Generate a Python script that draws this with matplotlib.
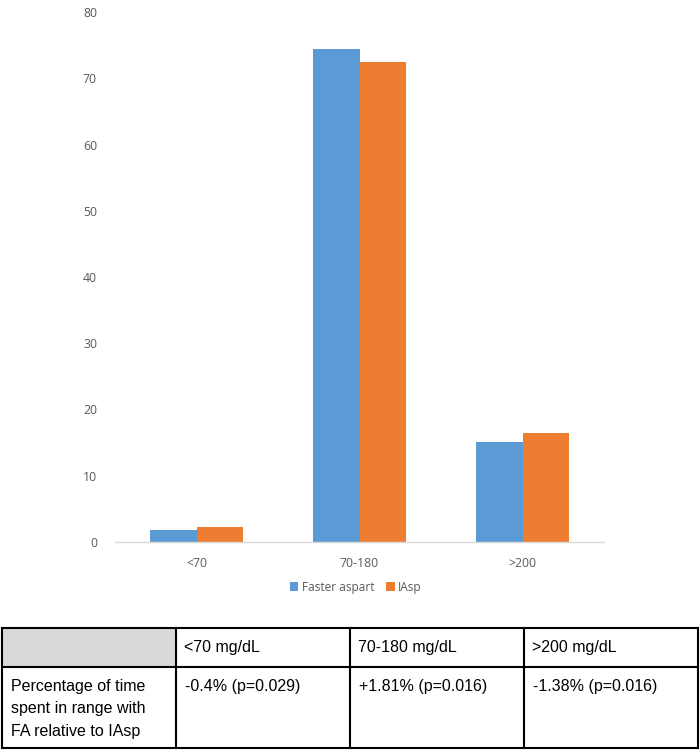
import matplotlib
matplotlib.use("Agg")
import matplotlib.pyplot as plt
from matplotlib.patches import Rectangle
import numpy as np

categories = ["<70", "70-180", ">200"]
faster_aspart = [1.8, 74.4, 15.1]
iasp = [2.2, 72.5, 16.4]
yticks = [0, 10, 20, 30, 40, 50, 60, 70, 80]
series_names = ["Faster aspart", "IAsp"]

table_header = ["", "<70 mg/dL", "70-180 mg/dL", ">200 mg/dL"]
table_row = ["Percentage of time\nspent in range with\nFA relative to IAsp",
             "-0.4% (p=0.029)", "+1.81% (p=0.016)", "-1.38% (p=0.016)"]

W, H = 700, 755
fig = plt.figure(figsize=(W / 100, H / 100), dpi=100)

def fx(px):
    return px / W

def fy(py):
    return 1 - py / H

chart_font = "Open Sans"
gray = "#595959"
blue = "#5B9BD5"
orange = "#ED7D31"

ax = fig.add_axes([fx(115), fy(542), fx(604) - fx(115), fy(12) - fy(542)])
x = np.arange(len(categories))
w = 0.285
ax.bar(x - w / 2, faster_aspart, w, color=blue, label=series_names[0])
ax.bar(x + w / 2, iasp, w, color=orange, label=series_names[1])
ax.set_xlim(-0.5, 2.5)
ax.set_ylim(0, 80)
ax.set_yticks(yticks)
ax.set_yticklabels([str(v) for v in yticks], fontfamily=chart_font, fontsize=8.8, color=gray)
ax.set_xticks(x)
ax.set_xticklabels(categories, fontfamily=chart_font, fontsize=8.8, color=gray)
ax.tick_params(axis="both", length=0)
ax.tick_params(axis="y", pad=13)
ax.tick_params(axis="x", pad=11)
for s in ["top", "right", "left"]:
    ax.spines[s].set_visible(False)
ax.spines["bottom"].set_color("#D9D9D9")
ax.spines["bottom"].set_linewidth(1.0)

leg = fig.legend(loc="center", bbox_to_anchor=(fx(356), fy(587)), ncol=2, frameon=False,
                 prop={"family": chart_font, "size": 8.6}, handlelength=0.7, handleheight=0.7,
                 handletextpad=0.3, columnspacing=1.0)
for t in leg.get_texts():
    t.set_color(gray)

# Table
tx0, tx1, ty0, ty1 = 2, 698, 628, 748
tax = fig.add_axes([fx(tx0), fy(ty1), fx(tx1) - fx(tx0), fy(ty0) - fy(ty1)])
tax.set_xlim(tx0, tx1)
tax.set_ylim(ty1, ty0)
tax.axis("off")
col_edges = [2, 176, 350, 524, 698]
row_edges = [628, 667, 748]
tax.add_patch(Rectangle((col_edges[0], row_edges[0]), col_edges[1] - col_edges[0],
                        row_edges[1] - row_edges[0], facecolor="#D9D9D9", edgecolor="none"))
lw = 1.5
for cx in col_edges:
    tax.plot([cx, cx], [row_edges[0], row_edges[-1]], color="black", lw=lw, clip_on=False,
             solid_capstyle="projecting")
for ry in row_edges:
    tax.plot([col_edges[0], col_edges[-1]], [ry, ry], color="black", lw=lw, clip_on=False,
             solid_capstyle="projecting")

tfont = "Liberation Sans"
for i, txt in enumerate(table_header):
    if txt:
        tax.text(col_edges[i] + 8, (row_edges[0] + row_edges[1]) / 2, txt, fontfamily=tfont,
                 fontsize=11.5, va="center", ha="left", color="black")
for i, txt in enumerate(table_row):
    tax.text(col_edges[i] + 9, 679, txt, fontfamily=tfont, fontsize=11.5, va="top", ha="left",
             color="black", linespacing=1.62)

fig.savefig("out.png", dpi=100)
